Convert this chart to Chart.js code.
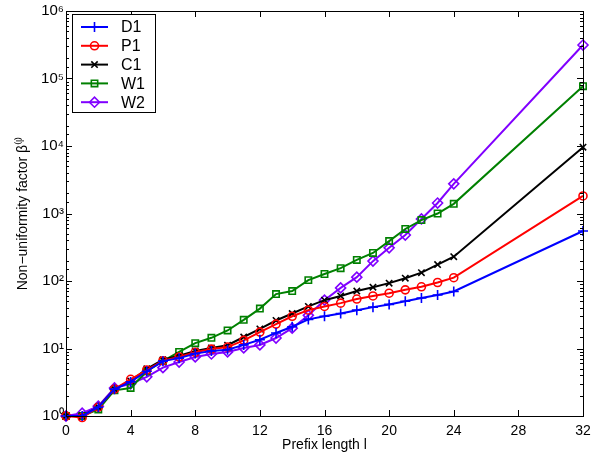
<!DOCTYPE html>
<html>
<head>
<meta charset="utf-8">
<script src="https://cdn.jsdelivr.net/npm/chart.js@4/dist/chart.umd.min.js"></script>
<style>
  html, body { margin: 0; padding: 0; background: #fff; }
  #wrap { width: 603px; height: 459px; }
</style>
</head>
<body>
<div id="wrap"><canvas id="chart" width="603" height="459"></canvas></div>
<script>
// prefix lengths (x) and non-uniformity factor per trace
const prefixLen = [0, 1, 2, 3, 4, 5, 6, 7, 8, 9, 10, 11, 12, 13, 14, 15, 16, 17, 18, 19, 20, 21, 22, 23, 24, 32];
const d1 = [1, 1, 1.35, 2.5, 3.2, 4.6, 6.5, 7.2, 8.4, 9.2, 9.6, 11.3, 13.5, 17, 21, 27, 30, 33, 37, 41, 45, 50, 56, 62, 70, 550];
const p1 = [1, 0.95, 1.35, 2.5, 3.5, 4.8, 6.6, 7.5, 8.8, 9.8, 10.5, 13.2, 17.5, 23, 30, 37, 42, 47, 54, 60, 66, 74, 82, 95, 112, 1820];
const c1 = [1, 1, 1.35, 2.5, 3.3, 5.0, 6.8, 7.8, 9.2, 10.2, 11.2, 14.8, 19.5, 26, 33, 42, 52, 60, 71, 81, 93, 110, 133, 175, 229, 9600];
const w1 = [1, 1, 1.25, 2.4, 2.6, 4.6, 6.5, 8.9, 12, 14.4, 18.5, 26.6, 39, 64, 71, 103, 127, 155, 205, 260, 390, 590, 800, 1000, 1390, 77000];
const w2 = [1, 1.1, 1.4, 2.6, 3.0, 3.8, 5.2, 6.3, 7.5, 8.3, 8.9, 10.2, 11.3, 14.3, 20, 31, 52, 79, 114, 197, 310, 480, 830, 1430, 2750, 313000];

const seriesNames = ['D1', 'P1', 'C1', 'W1', 'W2'];
const seriesData = [d1, p1, c1, w1, w2];
const seriesColors = ['#0000ff', '#ff0000', '#000000', '#008000', '#8000ff'];
const seriesMarkers = ['cross', 'circle', 'crossRot', 'rect', 'rectRot'];
const markerSizes = [5, 4, 4.5, 4.5, 5];

const xTicks = [0, 4, 8, 12, 16, 20, 24, 28, 32];
const supers = ['\u2070', '\u00b9', '\u00b2', '\u00b3', '\u2074', '\u2075', '\u2076'];

const FONT = '"Liberation Sans", Arial, Helvetica, sans-serif';

const datasets = seriesNames.map((name, i) => ({
  label: name,
  data: prefixLen.map((x, j) => ({ x: x, y: seriesData[i][j] })),
  borderColor: seriesColors[i],
  backgroundColor: 'rgba(0,0,0,0)',
  borderWidth: 2,
  pointStyle: seriesMarkers[i],
  pointRadius: markerSizes[i],
  pointBorderWidth: 1.6,
  pointBorderColor: seriesColors[i],
  pointBackgroundColor: 'rgba(0,0,0,0)',
  tension: 0,
  clip: false,
}));

// box round the axes + inward ticks like the matlab original
const axesFrame = {
  id: 'axesFrame',
  afterDatasetsDraw(chart) {
    const { ctx, chartArea: a, scales } = chart;
    ctx.save();
    ctx.strokeStyle = '#000';
    ctx.lineWidth = 1;
    ctx.strokeRect(a.left + 0.5, a.top + 0.5, a.right - a.left, a.bottom - a.top);
    ctx.beginPath();
    xTicks.forEach(v => {
      const px = Math.round(scales.x.getPixelForValue(v)) + 0.5;
      ctx.moveTo(px, a.bottom); ctx.lineTo(px, a.bottom - 6);
      ctx.moveTo(px, a.top); ctx.lineTo(px, a.top + 6);
    });
    scales.y.ticks.forEach(t => {
      const lg = Math.log10(t.value);
      const len = Math.abs(lg - Math.round(lg)) < 1e-9 ? 6 : 3;
      const py = Math.round(scales.y.getPixelForValue(t.value)) + 0.5;
      ctx.moveTo(a.left, py); ctx.lineTo(a.left + len, py);
      ctx.moveTo(a.right, py); ctx.lineTo(a.right - len, py);
    });
    ctx.stroke();
    ctx.restore();
  },
  afterDraw(chart) {
    // legend box in the upper left corner
    const { ctx } = chart;
    const bx = 72, by = 14, bw = 83, bh = 98;
    ctx.save();
    ctx.fillStyle = '#fff';
    ctx.fillRect(bx, by, bw, bh);
    ctx.strokeStyle = '#000';
    ctx.lineWidth = 1;
    ctx.strokeRect(bx + 0.5, by + 0.5, bw, bh);
    chart.data.datasets.forEach((ds, i) => {
      const y = 27 + i * 18.8;
      ctx.strokeStyle = ds.borderColor;
      ctx.lineWidth = 2;
      ctx.beginPath();
      ctx.moveTo(81, y); ctx.lineTo(108, y);
      ctx.stroke();
      ctx.lineWidth = ds.pointBorderWidth;
      ctx.fillStyle = 'rgba(0,0,0,0)';
      Chart.helpers.drawPoint(ctx, { pointStyle: ds.pointStyle, radius: ds.pointRadius, rotation: 0, borderWidth: ds.pointBorderWidth }, 94.5, y);
      ctx.fillStyle = '#000';
      ctx.font = '16px ' + FONT;
      ctx.textBaseline = 'middle';
      ctx.fillText(ds.label, 121, y + 1);
    });
    ctx.restore();
  }
};

new Chart(document.getElementById('chart'), {
  type: 'line',
  data: { datasets: datasets },
  options: {
    responsive: false,
    animation: false,
    layout: { padding: { top: 11, right: 20, left: 0, bottom: 0 } },
    plugins: {
      legend: { display: false },
      tooltip: { enabled: false },
    },
    scales: {
      x: {
        type: 'linear',
        min: 0,
        max: 32,
        afterBuildTicks: s => { s.ticks = xTicks.map(v => ({ value: v })); },
        afterFit: s => { s.height = 43; },
        grid: { display: false, drawTicks: false },
        border: { display: false },
        ticks: { color: '#000', font: { family: FONT, size: 14 }, padding: 7, maxRotation: 0 },
        title: { display: true, text: 'Prefix length l', color: '#000', font: { family: FONT, size: 14 }, padding: { top: 0, bottom: 5 } },
      },
      y: {
        type: 'logarithmic',
        min: 1,
        max: 1e6,
        afterFit: s => { s.width = 66; },
        grid: { display: false, drawTicks: false },
        border: { display: false },
        ticks: {
          color: '#000',
          font: { family: FONT, size: 15 },
          padding: 2,
          autoSkip: false,
          callback: v => {
            const lg = Math.log10(v);
            if (Math.abs(lg - Math.round(lg)) > 1e-9) return '';
            return '10' + supers[Math.round(lg)];
          },
        },
        title: { display: true, text: 'Non\u2212uniformity factor \u03b2\u207d\u02e1\u207e', color: '#000', font: { family: FONT, size: 14 }, padding: { top: 15, bottom: 0 } },
      },
    },
  },
  plugins: [axesFrame],
});
</script>
</body>
</html>
